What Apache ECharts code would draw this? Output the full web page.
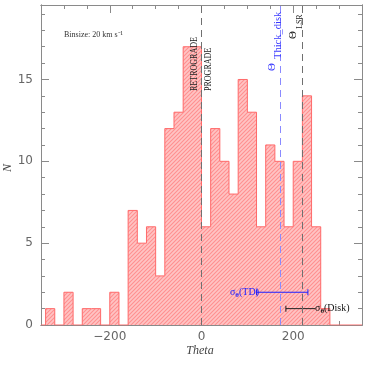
<!DOCTYPE html>
<html>
<head>
<meta charset="utf-8">
<script src="https://cdn.jsdelivr.net/npm/echarts@6/dist/echarts.min.js"></script>
<style>
  html, body { margin: 0; padding: 0; background: #fff; }
  #main { width: 382px; height: 366px; }
</style>
</head>
<body>
<div id="main"></div>
<script>
// bin lower edges (km/s), bin size 20
var binStart = [-340, -320, -300, -280, -260, -240, -220, -200, -180, -160, -140, -120, -100, -80, -60, -40, -20,
    0, 20, 40, 60, 80, 100, 120, 140, 160, 180, 200, 220, 240, 260];
var counts = [1, 0, 2, 0, 1, 1, 0, 2, 0, 7, 5, 6, 3, 12, 13, 17, 17,
    6, 12, 10, 8, 15, 13, 6, 11, 10, 6, 10, 14, 6, 1];
var binSize = 20;

// reference lines
var thetaThickDisk = 172;
var thetaLSR = 220;
// dispersion bars: [from, to, level]
var sigmaTD = [120, 232, 2];
var sigmaDisk = [184, 248, 1];

var xMajor = [-200, 0, 200];
var yMajor = [0, 5, 10, 15];

var myChart = echarts.init(document.getElementById('main'));

// hatched fill pattern
var pat = document.createElement('canvas');
pat.width = 4; pat.height = 4;
var ctx = pat.getContext('2d');
ctx.fillStyle = '#ffc4c4';
ctx.fillRect(0, 0, 4, 4);
ctx.strokeStyle = '#ff9090';
ctx.lineWidth = 1.1;
ctx.beginPath();
ctx.moveTo(-1, 5); ctx.lineTo(5, -1);
ctx.moveTo(-1, 1); ctx.lineTo(1, -1);
ctx.moveTo(3, 5); ctx.lineTo(5, 3);
ctx.stroke();

var xMinor = [], yMinor = [];
for (var v = -350; v <= 350; v += 50) if (xMajor.indexOf(v) < 0) xMinor.push(v);
for (var k = 0; k <= 19; k++) if (yMajor.indexOf(k) < 0) yMinor.push(k);

// histogram step outline built from the bins
var outline = [];
for (var i = 0; i < binStart.length; i++) {
    outline.push([binStart[i], counts[i]]);
    outline.push([binStart[i] + binSize, counts[i]]);
}
outline.unshift([-350, 0], [binStart[0], 0]);
outline.push([binStart[binStart.length - 1] + binSize, 0], [350, 0]);

var axisGray = '#8a8a8a';
function xAx(pos, ticks, len, labels) {
    return {
        type: 'value', position: pos, min: -350, max: 350,
        axisLine: { show: true, onZero: false, lineStyle: { color: axisGray } },
        axisTick: { inside: true, length: len, customValues: ticks, lineStyle: { color: axisGray } },
        axisLabel: labels ? {
            customValues: ticks, color: '#666', fontSize: 12, fontFamily: 'DejaVu Sans', margin: 6,
            formatter: function (v) { return String(v).replace('-', '\u2212'); }
        } : { show: false },
        splitLine: { show: false }
    };
}
function yAx(pos, ticks, len, labels) {
    return {
        type: 'value', position: pos, min: 0, max: 19.55,
        axisLine: { show: true, onZero: false, lineStyle: { color: axisGray } },
        axisTick: { inside: true, length: len, customValues: ticks, lineStyle: { color: axisGray } },
        axisLabel: labels ? {
            customValues: ticks, color: '#666', fontSize: 12, fontFamily: 'DejaVu Sans', margin: 8
        } : { show: false },
        splitLine: { show: false }
    };
}

function txt(o) { o.type = 'text'; o.z = 100; return o; }

var option = {
    animation: false,
    grid: { left: 41, right: 20, top: 5, bottom: 41 },
    xAxis: [
        xAx('bottom', xMajor, 8, true),
        xAx('bottom', xMinor, 4, false),
        xAx('top', xMajor, 8, false),
        xAx('top', xMinor, 4, false)
    ],
    yAxis: [
        yAx('left', yMajor, 8, true),
        yAx('left', yMinor, 4, false),
        yAx('right', yMajor, 8, false),
        yAx('right', yMinor, 4, false)
    ],
    series: [{
        type: 'line',
        xAxisIndex: 0, yAxisIndex: 0,
        data: outline,
        symbol: 'none',
        lineStyle: { color: '#ff6a6a', width: 1 },
        areaStyle: { color: { image: pat, repeat: 'repeat' }, opacity: 1 },
        z: 2,
        markLine: {
            silent: true, symbol: 'none', label: { show: false },
            data: [
                { xAxis: 0, lineStyle: { color: '#707070', type: [7, 5], width: 1 } },
                { xAxis: thetaLSR, lineStyle: { color: '#707070', type: [7, 5], width: 1 } },
                { xAxis: thetaThickDisk, lineStyle: { color: '#8a8aff', type: [7, 5], width: 1 } }
            ]
        }
    }, {
        type: 'line',
        xAxisIndex: 0, yAxisIndex: 0,
        data: [[sigmaTD[0], sigmaTD[2]], [sigmaTD[1], sigmaTD[2]]],
        symbol: 'rect', symbolSize: [1, 6],
        itemStyle: { color: '#2020ff' },
        lineStyle: { color: '#2020ff', width: 1 },
        z: 3
    }, {
        type: 'line',
        xAxisIndex: 0, yAxisIndex: 0,
        data: [{ value: [sigmaDisk[0], sigmaDisk[2]] }, { value: [sigmaDisk[1], sigmaDisk[2]], symbol: 'none' }],
        symbol: 'rect', symbolSize: [1, 6],
        itemStyle: { color: '#222' },
        lineStyle: { color: '#222', width: 1 },
        z: 3
    }],
    graphic: [
        txt({ x: 64, y: 35, style: { text: 'Binsize: 20 km s\u207B\u00B9', font: '8px "Liberation Serif"', fill: '#333', verticalAlign: 'middle' } }),
        txt({ x: 194, y: 91, rotation: Math.PI / 2, scaleX: 0.73, style: { text: 'RETROGRADE', font: '11px "Liberation Serif"', fill: '#222', align: 'left', verticalAlign: 'middle' } }),
        txt({ x: 208, y: 91, rotation: Math.PI / 2, scaleX: 0.73, style: { text: 'PROGRADE', font: '11px "Liberation Serif"', fill: '#222', align: 'left', verticalAlign: 'middle' } }),
        txt({ x: 272, y: 71, rotation: Math.PI / 2, style: { text: '\u0398', font: '11px "Liberation Serif"', fill: '#3a3aff', align: 'left', verticalAlign: 'middle' } }),
        txt({ x: 278, y: 59, rotation: Math.PI / 2, style: { text: 'Thick_disk', font: '10.5px "Liberation Serif"', fill: '#3a3aff', align: 'left', verticalAlign: 'middle' } }),
        txt({ x: 293, y: 39, rotation: Math.PI / 2, style: { text: '\u0398', font: '11px "Liberation Serif"', fill: '#222', align: 'left', verticalAlign: 'middle' } }),
        txt({ x: 300, y: 29, rotation: Math.PI / 2, style: { text: 'LSR', font: '8px "Liberation Serif"', fill: '#222', align: 'left', verticalAlign: 'middle' } }),
        txt({ x: 259, y: 292, style: { text: '{s|\u03C3}{b|\u03B8}{s|(TD)}', align: 'right', verticalAlign: 'middle', rich: { s: { font: '10px "Liberation Serif"', fill: '#2020ff' }, b: { font: 'bold 7px "Liberation Serif"', fill: '#2020ff', padding: [6, 0, 0, 0] } } } }),
        txt({ x: 315, y: 308, style: { text: '{s|\u03C3}{b|\u03B8}{s|(Disk)}', align: 'left', verticalAlign: 'middle', rich: { s: { font: '10px "Liberation Serif"', fill: '#111' }, b: { font: 'bold 7px "Liberation Serif"', fill: '#111', padding: [6, 0, 0, 0] } } } }),
        txt({ x: 200, y: 351, style: { text: 'Theta', font: 'italic 12px "Liberation Serif"', fill: '#444', align: 'center', verticalAlign: 'middle' } }),
        txt({ x: 8, y: 168, rotation: Math.PI / 2, style: { text: 'N', font: 'italic 12px "Liberation Serif"', fill: '#444', align: 'center', verticalAlign: 'middle' } })
    ]
};
myChart.setOption(option);
</script>
</body>
</html>
